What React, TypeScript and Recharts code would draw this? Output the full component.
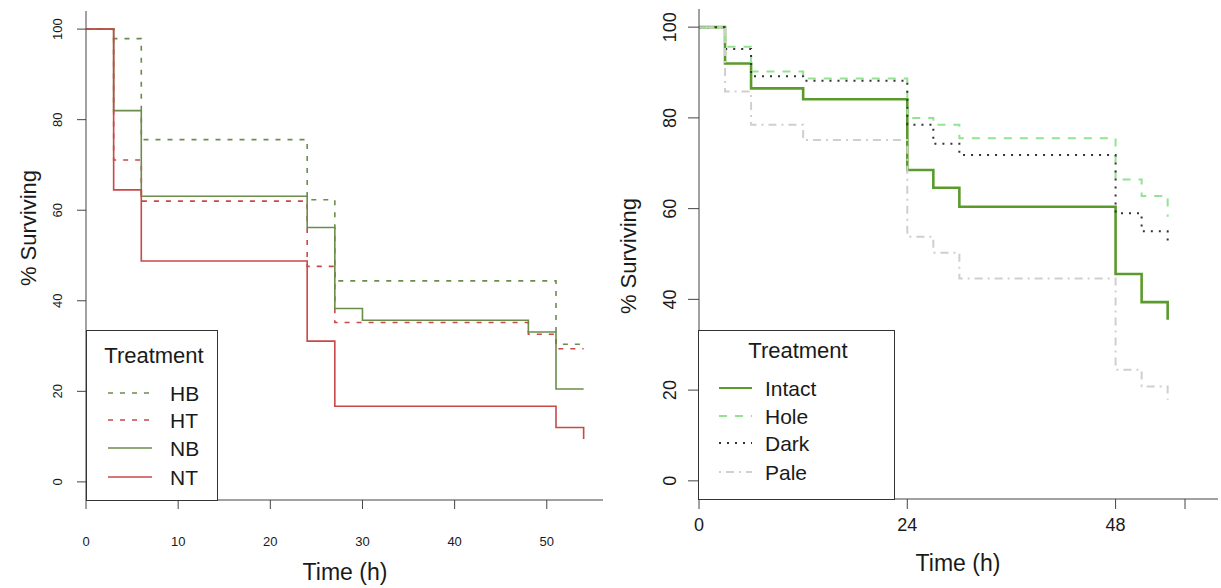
import React from 'react';
import { LineChart, Line, XAxis, YAxis, Legend } from 'recharts';

const FONT = '"Liberation Sans", Arial, Helvetica, sans-serif';
const AXIS = '#444';
const TEXT = '#1a1a1a';

// left panel (HB / HT / NB / NT), % surviving at each check time
const hbTime = [0, 3, 6, 24, 27, 51, 54];
const hbSurv = [100, 97.9, 75.6, 62.3, 44.4, 30.4, 30.4];
const htTime = [0, 3, 6, 24, 27, 48, 51, 54];
const htSurv = [100, 71.1, 62.0, 47.6, 35.2, 32.6, 29.4, 29.4];
const nbTime = [0, 3, 6, 24, 27, 30, 48, 51, 54];
const nbSurv = [100, 82.0, 63.1, 56.2, 38.3, 35.7, 33.1, 20.5, 20.5];
const ntTime = [0, 3, 6, 24, 27, 51, 54];
const ntSurv = [100, 64.5, 48.8, 31.1, 16.7, 12.0, 9.5];

const leftXTicks = [0, 10, 20, 30, 40, 50];
const yTicks = [0, 20, 40, 60, 80, 100];

// right panel (Intact / Hole / Dark / Pale)
const rightTime = [0, 3, 6, 12, 24, 27, 30, 48, 51, 54];
const intactSurv = [100, 92.0, 86.5, 84.1, 68.5, 64.6, 60.4, 45.6, 39.4, 35.5];
const holeSurv = [100, 95.7, 90.2, 88.7, 80.0, 78.5, 75.5, 66.4, 62.8, 58.2];
const darkSurv = [100, 95.2, 89.2, 88.2, 78.5, 74.3, 71.8, 59.0, 55.0, 51.9];
const paleSurv = [100, 85.8, 78.5, 75.1, 53.8, 50.3, 44.6, 24.5, 20.8, 17.9];

const rightXTicks = [0, 24, 48, 56];

const steps = (times: number[], vals: number[]) =>
  times.map((t, i) => ({ t, v: vals[i] }));

const GREEN = '#6c8c4b';
const RED = '#c94848';

const leftSeries = [
  { name: 'HB', data: steps(hbTime, hbSurv), color: GREEN, dash: '5 7', width: 1.6 },
  { name: 'HT', data: steps(htTime, htSurv), color: RED, dash: '5 7', width: 1.6 },
  { name: 'NB', data: steps(nbTime, nbSurv), color: GREEN, dash: undefined, width: 1.6 },
  { name: 'NT', data: steps(ntTime, ntSurv), color: RED, dash: undefined, width: 1.6 },
];

const rightSeries = [
  { name: 'Intact', data: steps(rightTime, intactSurv), color: '#5b9b2c', dash: undefined, width: 2.6 },
  { name: 'Hole', data: steps(rightTime, holeSurv), color: '#93e393', dash: '8 8', width: 2 },
  { name: 'Dark', data: steps(rightTime, darkSurv), color: '#333333', dash: '2 6', width: 2 },
  { name: 'Pale', data: steps(rightTime, paleSurv), color: '#cfcfcf', dash: '2 5 8 5', width: 2 },
];

const rotTick = (labelX: number, size: number) => (props: any) => (
  <text
    transform={`translate(${labelX},${props.y}) rotate(-90)`}
    textAnchor="middle"
    fontSize={size}
    fontFamily={FONT}
    fill={TEXT}
  >
    {props.payload.value}
  </text>
);

const rotTitle = (x: number, y: number, size: number) => () => (
  <text
    transform={`translate(${x},${y}) rotate(-90)`}
    textAnchor="middle"
    fontSize={size}
    fontFamily={FONT}
    fill={TEXT}
  >
    % Surviving
  </text>
);

const flatTitle = (x: number, y: number, size: number) => () => (
  <text x={x} y={y} textAnchor="middle" fontSize={size} fontFamily={FONT} fill={TEXT}>
    Time (h)
  </text>
);

const LegendBox = ({ w, h, titleX, titleY, rows, x1, x2, textX, series, size }: any) => (
  <svg width={w} height={h} style={{ display: 'block' }}>
    <rect x={0.5} y={0.5} width={w - 1} height={h - 1} fill="#fff" stroke="#333" />
    <text x={titleX} y={titleY} textAnchor="middle" fontSize={22} fontFamily={FONT} fill={TEXT}>
      Treatment
    </text>
    {series.map((s: any, i: number) => (
      <g key={s.name}>
        <line
          x1={x1}
          x2={x2}
          y1={rows[i]}
          y2={rows[i]}
          stroke={s.color}
          strokeWidth={Math.min(s.width, 2)}
          strokeDasharray={s.dash}
        />
        <text x={textX} y={rows[i] + 7.5} fontSize={size} fontFamily={FONT} fill={TEXT}>
          {s.name}
        </text>
      </g>
    ))}
  </svg>
);

const App = () => (
  <div style={{ position: 'absolute', left: 0, top: 0, width: 1221, height: 588, background: '#fff' }}>
    <div style={{ position: 'absolute', left: 0, top: 0 }}>
      <LineChart width={610} height={588} margin={{ top: 11, right: 7, left: 0, bottom: 0 }}>
        <XAxis
          dataKey="t"
          type="number"
          domain={[0, 56.1]}
          ticks={leftXTicks}
          height={88}
          tickSize={9}
          tickMargin={28}
          stroke={AXIS}
          tick={{ fontSize: 13, fontFamily: FONT, fill: TEXT }}
          label={flatTitle(345, 580, 23)}
        />
        <XAxis xAxisId="top" orientation="top" type="number" domain={[0, 56.1]} height={0} tick={false} tickLine={false} stroke={AXIS} />
        <YAxis
          type="number"
          domain={[-4, 104]}
          ticks={yTicks}
          width={86}
          tickSize={9}
          stroke={AXIS}
          tick={rotTick(62, 13)}
          label={rotTitle(36, 228, 22)}
        />
        <YAxis yAxisId="right" orientation="right" type="number" domain={[-4, 104]} width={0} tick={false} tickLine={false} stroke={AXIS} />
        {leftSeries.map((s) => (
          <Line
            key={s.name}
            data={s.data}
            dataKey="v"
            name={s.name}
            type="stepAfter"
            stroke={s.color}
            strokeWidth={s.width}
            strokeDasharray={s.dash}
            dot={false}
            activeDot={false}
            isAnimationActive={false}
          />
        ))}
        <Legend
          layout="horizontal"
          verticalAlign="middle"
          align="center"
          wrapperStyle={{ left: 86, top: 330, width: 132, height: 171 }}
          content={() => (
            <LegendBox
              w={132}
              h={171}
              titleX={68}
              titleY={33}
              rows={[63, 90, 118, 147]}
              x1={22}
              x2={66}
              textX={84}
              series={leftSeries}
              size={21}
            />
          )}
        />
      </LineChart>
    </div>
    <div style={{ position: 'absolute', left: 610, top: 0 }}>
      <LineChart width={611} height={588} margin={{ top: 9, right: 3, left: 0, bottom: 0 }}>
        <XAxis
          dataKey="t"
          type="number"
          domain={[0, 59.8]}
          ticks={rightXTicks}
          tickFormatter={(v: number) => (v === 56 ? '' : String(v))}
          height={89}
          tickSize={10}
          tickMargin={9}
          stroke={AXIS}
          tick={{ fontSize: 18, fontFamily: FONT, fill: TEXT }}
          label={flatTitle(348, 571, 23)}
        />
        <XAxis xAxisId="top" orientation="top" type="number" domain={[0, 59.8]} height={0} tick={false} tickLine={false} stroke={AXIS} />
        <YAxis
          type="number"
          domain={[-4, 104]}
          ticks={yTicks}
          width={89}
          tickSize={11}
          stroke={AXIS}
          tick={rotTick(66, 18)}
          label={rotTitle(26, 256, 22)}
        />
        <YAxis yAxisId="right" orientation="right" type="number" domain={[-4, 104]} width={0} tick={false} tickLine={false} stroke={AXIS} />
        {rightSeries.map((s) => (
          <Line
            key={s.name}
            data={s.data}
            dataKey="v"
            name={s.name}
            type="stepAfter"
            stroke={s.color}
            strokeWidth={s.width}
            strokeDasharray={s.dash}
            dot={false}
            activeDot={false}
            isAnimationActive={false}
          />
        ))}
        <Legend
          layout="horizontal"
          verticalAlign="middle"
          align="center"
          wrapperStyle={{ left: 88, top: 330, width: 197, height: 170 }}
          content={() => (
            <LegendBox
              w={197}
              h={170}
              titleX={100}
              titleY={28}
              rows={[58, 86, 113, 142]}
              x1={21}
              x2={54}
              textX={67}
              series={rightSeries}
              size={21}
            />
          )}
        />
      </LineChart>
    </div>
  </div>
);

export default App;
